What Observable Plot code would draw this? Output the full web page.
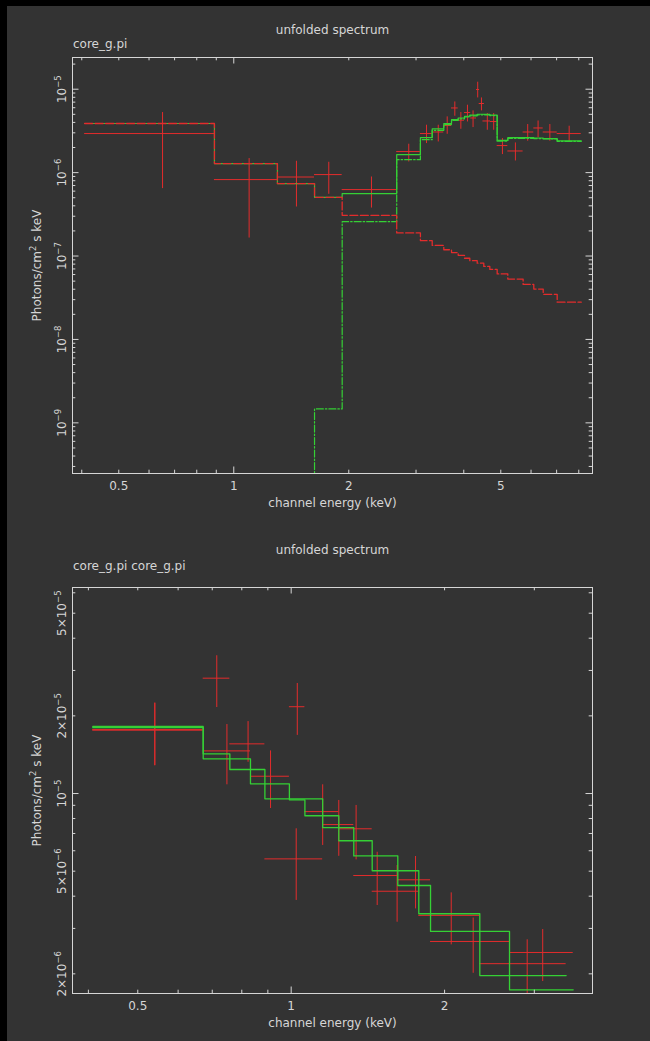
<!DOCTYPE html>
<html>
<head>
<meta charset="utf-8">
<script src="https://cdn.jsdelivr.net/npm/d3@7"></script>
<script src="https://cdn.jsdelivr.net/npm/@observablehq/plot@0.6"></script>
<style>
  html, body { margin: 0; padding: 0; background: #333333; }
  body { width: 650px; height: 1041px; position: relative; overflow: hidden; }
  .panel { position: absolute; left: 0; }
  #panel1 { top: 0; }
  #panel2 { top: 520px; }
  #edgeTop { position: absolute; left: 0; top: 0; width: 650px; height: 6px; background: #000; }
  #edgeLeft { position: absolute; left: 0; top: 0; width: 7px; height: 1041px; background: #000; }
</style>
</head>
<body>
<div id="panel1" class="panel"></div>
<div id="panel2" class="panel"></div>
<div id="edgeTop"></div>
<div id="edgeLeft"></div>
<script>
// ---------- Upper panel: core_g.pi with a two-component model ----------
// model bin edges (keV) and unfolded model values (photons/cm^2/s/keV)
const modelEdges1 = [0.407, 0.890, 1.301, 1.627, 1.922, 2.67, 3.08, 3.307, 3.546, 3.715, 3.868,
  4.018, 4.148, 4.337, 4.513, 4.68, 4.892, 5.216, 5.72, 6.1, 6.457, 7.024, 8.12];
const modelTotal1 = [3.88e-6, 1.283e-6, 7.39e-7, 5.06e-7, 5.6e-7, 1.646e-6, 2.633e-6, 3.34e-6,
  3.88e-6, 4.33e-6, 4.52e-6, 4.74e-6, 4.88e-6, 5.01e-6, 5.0e-6, 4.9e-6, 2.44e-6, 2.63e-6,
  2.63e-6, 2.6e-6, 2.56e-6, 2.40e-6];
const modelSoft1 = [3.88e-6, 1.283e-6, 7.39e-7, 5.06e-7, 3.08e-7, 1.89e-7, 1.53e-7, 1.34e-7,
  1.19e-7, 1.10e-7, 1.02e-7, 9.4e-8, 8.8e-8, 8.2e-8, 7.5e-8, 6.9e-8, 6.1e-8, 5.3e-8, 4.57e-8,
  4.02e-8, 3.47e-8, 2.8e-8];
const modelHard1 = [1e-11, 1e-11, 1e-11, 1.47e-9, 2.58e-7, 1.43e-6, 2.48e-6, 3.21e-6, 3.76e-6,
  4.22e-6, 4.42e-6, 4.65e-6, 4.8e-6, 4.93e-6, 4.92e-6, 4.83e-6, 2.38e-6, 2.58e-6, 2.58e-6,
  2.56e-6, 2.53e-6, 2.37e-6];

// data points: energy, bin edges, flux and 1-sigma range
const energy1 = [0.651, 1.097, 1.459, 1.773, 2.293, 2.871, 3.195, 3.43, 3.62, 3.79, 3.93, 4.09,
  4.23, 4.35, 4.45, 4.61, 4.79, 5.05, 5.46, 5.88, 6.26, 6.72, 7.55];
const energyLo1 = [0.407, 0.890, 1.301, 1.627, 1.922, 2.67, 3.08, 3.307, 3.546, 3.715, 3.868,
  4.018, 4.17, 4.32, 4.39, 4.49, 4.70, 4.892, 5.216, 5.72, 6.1, 6.457, 7.024];
const energyHi1 = [0.890, 1.301, 1.627, 1.922, 2.67, 3.08, 3.307, 3.546, 3.715, 3.868, 4.018,
  4.17, 4.32, 4.40, 4.53, 4.70, 4.89, 5.216, 5.72, 6.1, 6.457, 7.024, 8.12];
const flux1 = [2.94e-6, 8.25e-7, 8.86e-7, 9.47e-7, 6.26e-7, 1.788e-6, 2.94e-6, 3.07e-6, 3.67e-6,
  5.96e-6, 4.25e-6, 5.25e-6, 4.52e-6, 9.92e-6, 6.74e-6, 4.16e-6, 4.1e-6, 2.11e-6, 1.818e-6,
  3.07e-6, 3.43e-6, 3.07e-6, 2.94e-6];
const fluxLo1 = [6.43e-7, 1.643e-7, 3.87e-7, 5.5e-7, 3.76e-7, 1.341e-6, 2.23e-6, 2.33e-6, 2.88e-6,
  4.74e-6, 3.31e-6, 4.05e-6, 3.47e-6, 7.86e-6, 5.5e-6, 3.22e-6, 3.22e-6, 1.646e-6, 1.379e-6,
  2.38e-6, 2.63e-6, 2.38e-6, 2.33e-6];
const fluxHi1 = [5.25e-6, 1.474e-6, 1.368e-6, 1.33e-6, 8.86e-7, 2.19e-6, 3.70e-6, 3.70e-6, 4.66e-6,
  7.04e-6, 5.25e-6, 6.43e-6, 5.5e-6, 1.213e-5, 7.86e-6, 5.11e-6, 5.11e-6, 2.56e-6, 2.27e-6,
  3.77e-6, 4.16e-6, 3.77e-6, 3.6e-6];

// ---------- Lower panel: core_g.pi loaded twice, two binnings ----------
const modelEdges2a = [0.408, 0.672, 0.832, 0.992, 1.064, 1.240, 1.442, 1.780, 2.345, 3.464];
const modelFlux2a = [1.819e-5, 1.363e-5, 1.09e-5, 9.45e-6, 8.2e-6, 6.56e-6, 5.02e-6, 3.42e-6, 1.97e-6];
const modelEdges2b = [0.408, 0.672, 0.758, 0.888, 1.153, 1.327, 1.619, 1.877, 2.682, 3.576];
const modelFlux2b = [1.80e-5, 1.425e-5, 1.239e-5, 9.54e-6, 7.38e-6, 5.73e-6, 4.4e-6, 2.92e-6, 1.734e-6];

const energy2a = [0.540, 0.748, 0.911, 1.028, 1.153, 1.341, 1.614, 2.061, 2.905];
const flux2a = [1.77e-5, 1.463e-5, 1.167e-5, 2.17e-5, 8.51e-6, 7.3e-6, 4.18e-6, 3.37e-6, 2.19e-6];
const fluxLo2a = [1.284e-5, 1.081e-5, 8.75e-6, 1.68e-5, 6.29e-6, 5.53e-6, 3.17e-6, 2.59e-6, 1.55e-6];
const fluxHi2a = [2.24e-5, 1.851e-5, 1.463e-5, 2.67e-5, 1.081e-5, 8.99e-6, 5.26e-6, 4.12e-6, 2.71e-6];

const energy2b = [0.540, 0.7145, 0.823, 1.023, 1.240, 1.475, 1.754, 2.276, 3.116];
const flux2b = [1.76e-5, 2.8e-5, 1.558e-5, 5.58e-6, 7.58e-6, 4.81e-6, 4.63e-6, 2.67e-6, 2.42e-6];
const fluxLo2b = [1.28e-5, 2.155e-5, 1.322e-5, 3.85e-6, 5.71e-6, 3.68e-6, 3.57e-6, 2.01e-6, 1.867e-6];
const fluxHi2b = [2.24e-5, 3.42e-5, 1.9e-5, 7.3e-6, 9.4e-6, 5.92e-6, 5.7e-6, 3.29e-6, 2.97e-6];

// ---------- axis ticks and labels ----------
const xMinorTicks1 = [0.4, 0.5, 0.6, 0.7, 0.8, 0.9, 2, 3, 4, 5, 6, 7, 8];
const xMajorTicks1 = [1];
const xTickLabels1 = [0.5, 1, 2, 5];
const yMajorTicks1 = [1e-9, 1e-8, 1e-7, 1e-6, 1e-5];
const yTickText1 = ["10⁻⁹", "10⁻⁸", "10⁻⁷", "10⁻⁶", "10⁻⁵"];

const xMinorTicks2 = [0.4, 0.5, 0.6, 0.7, 0.8, 0.9, 2, 3];
const xMajorTicks2 = [1];
const xTickLabels2 = [0.5, 1, 2];
const yMajorTicks2 = [1e-5];
const yMinorTicks2 = [2e-6, 3e-6, 4e-6, 5e-6, 6e-6, 7e-6, 8e-6, 9e-6, 2e-5, 3e-5, 4e-5, 5e-5, 6e-5];
const yTickValues2 = [2e-6, 5e-6, 1e-5, 2e-5, 5e-5];
const yTickText2 = ["2×10⁻⁶", "5×10⁻⁶", "10⁻⁵", "2×10⁻⁵", "5×10⁻⁵"];

// ---------- styling ----------
const RED = "#e32c2c";
const GREEN = "#35d035";
const INK = "#d6d6d6";
const FONT = "DejaVu Sans";

// histogram outline: one horizontal run per bin, joined by vertical risers
function stepPoints(edges, values) {
  const pts = [];
  values.forEach((v, i) => { pts.push({x: edges[i], y: v}); pts.push({x: edges[i + 1], y: v}); });
  return pts;
}

// log-decade minor ticks (2..9) that fall inside a domain
function logMinor(domain) {
  const out = [];
  for (let p = Math.floor(Math.log10(domain[0])); p <= Math.ceil(Math.log10(domain[1])); p++) {
    for (let m = 2; m <= 9; m++) {
      const v = m * Math.pow(10, p);
      if (v > domain[0] && v < domain[1]) out.push(v);
    }
  }
  return out;
}

function crosses(rows, stroke) {
  return [
    Plot.ruleX(rows, {x: "e", y1: "lo", y2: "hi", stroke, strokeWidth: 1, clip: true}),
    Plot.ruleY(rows, {y: "v", x1: "elo", x2: "ehi", stroke, strokeWidth: 1, clip: true})
  ];
}

function frameAndTicks(innerW, innerH, t) {
  const major = 6.5, minor = 3.3;
  return [
    Plot.frame({stroke: INK, strokeWidth: 1}),
    // x ticks, bottom and top, pointing inward
    Plot.tickX(t.xMinor, {x: d => d, stroke: INK, insetTop: innerH - minor}),
    Plot.tickX(t.xMinor, {x: d => d, stroke: INK, insetBottom: innerH - minor}),
    Plot.tickX(t.xMajor, {x: d => d, stroke: INK, insetTop: innerH - major}),
    Plot.tickX(t.xMajor, {x: d => d, stroke: INK, insetBottom: innerH - major}),
    // y ticks, left and right, pointing inward
    Plot.tickY(t.yMinor, {y: d => d, stroke: INK, insetRight: innerW - minor}),
    Plot.tickY(t.yMinor, {y: d => d, stroke: INK, insetLeft: innerW - minor}),
    Plot.tickY(t.yMajor, {y: d => d, stroke: INK, insetRight: innerW - major}),
    Plot.tickY(t.yMajor, {y: d => d, stroke: INK, insetLeft: innerW - major}),
    // tick labels
    Plot.text(t.xLabels, {x: d => d, text: d => String(d), frameAnchor: "bottom", dy: 7.5,
      lineAnchor: "top", fill: INK, fontSize: 12, fontFamily: FONT}),
    Plot.text(t.yValues, {y: d => d, text: (d, i) => t.yText[i], frameAnchor: "left", dx: -7,
      rotate: -90, textAnchor: "middle", lineAnchor: "bottom", fill: INK, fontSize: 12, fontFamily: FONT}),
    // axis titles, plot title and file name
    Plot.text(["channel energy (keV)"], {text: d => d, frameAnchor: "bottom", dy: 33,
      lineAnchor: "bottom", fill: INK, fontSize: 12, fontFamily: FONT, letterSpacing: "0.3px"}),
    Plot.text(["Photons/cm² s keV"], {text: d => d, frameAnchor: "left", dx: -32, rotate: -90,
      textAnchor: "middle", lineAnchor: "bottom", fill: INK, fontSize: 12, fontFamily: FONT,
      letterSpacing: "0.3px"}),
    Plot.text(["unfolded spectrum"], {text: d => d, frameAnchor: "top", dy: t.titleDy,
      lineAnchor: "bottom", fill: INK, fontSize: 12, fontFamily: FONT}),
    Plot.text([t.fileLabel], {text: d => d, frameAnchor: "top-left", dy: t.fileDy, dx: 0.5,
      textAnchor: "start", lineAnchor: "bottom", fill: INK, fontSize: 12, fontFamily: FONT})
  ];
}

// render superscript characters as raised, smaller tspans
const SUPER = {"⁰": "0", "¹": "1", "²": "2", "³": "3", "⁴": "4", "⁵": "5", "⁶": "6",
  "⁷": "7", "⁸": "8", "⁹": "9", "⁻": "−"};
function raiseSuperscripts(svg) {
  svg.querySelectorAll("text").forEach(node => {
    const s = node.textContent;
    if (![...s].some(c => c in SUPER)) return;
    const runs = [];
    for (const c of s) {
      const sup = c in SUPER;
      const last = runs[runs.length - 1];
      if (last && last.sup === sup) last.text += sup ? SUPER[c] : c;
      else runs.push({sup, text: sup ? SUPER[c] : c});
    }
    node.textContent = "";
    let raised = false;
    for (const r of runs) {
      const span = document.createElementNS("http://www.w3.org/2000/svg", "tspan");
      span.textContent = r.text;
      if (r.sup) { span.setAttribute("font-size", "8.5"); span.setAttribute("dy", "-5"); raised = true; }
      else if (raised) { span.setAttribute("dy", "5"); raised = false; }
      node.appendChild(span);
    }
  });
}

// ---------- upper panel ----------
{
  const width = 650, height = 520;
  const margin = {top: 57, right: 58, bottom: 47, left: 72};
  const xDomain = [0.3783, 8.69];
  const yDomain = [2.47e-10, 2.4e-5];
  const rows = energy1.map((e, i) => ({e, elo: energyLo1[i], ehi: energyHi1[i],
    v: flux1[i], lo: fluxLo1[i], hi: fluxHi1[i]}));
  const chart = Plot.plot({
    width, height,
    marginTop: margin.top, marginRight: margin.right, marginBottom: margin.bottom, marginLeft: margin.left,
    x: {type: "log", domain: xDomain, axis: null},
    y: {type: "log", domain: yDomain, axis: null},
    style: {background: "transparent", fontFamily: FONT, color: INK},
    marks: [
      ...crosses(rows, RED),
      Plot.line(stepPoints(modelEdges1, modelTotal1), {x: "x", y: "y", stroke: GREEN, strokeWidth: 1.2, clip: true}),
      Plot.line(stepPoints(modelEdges1, modelHard1), {x: "x", y: "y", stroke: GREEN, strokeWidth: 1.2,
        strokeDasharray: "7,2,1.5,2", clip: true}),
      Plot.line(stepPoints(modelEdges1, modelSoft1), {x: "x", y: "y", stroke: RED, strokeWidth: 1.3,
        strokeDasharray: "8,2.5", clip: true}),
      ...frameAndTicks(width - margin.left - margin.right, height - margin.top - margin.bottom, {
        xMinor: xMinorTicks1, xMajor: xMajorTicks1, xLabels: xTickLabels1,
        yMinor: logMinor(yDomain), yMajor: yMajorTicks1,
        yValues: yMajorTicks1, yText: yTickText1,
        titleDy: -24, fileDy: -10, fileLabel: "core_g.pi"
      })
    ]
  });
  raiseSuperscripts(chart);
  document.getElementById("panel1").appendChild(chart);
}

// ---------- lower panel ----------
{
  const width = 650, height = 521;
  const margin = {top: 67, right: 58, bottom: 48, left: 72};
  const xDomain = [0.3723, 3.902];
  const yDomain = [1.678e-6, 6.29e-5];
  const rowsA = energy2a.map((e, i) => ({e, elo: modelEdges2a[i], ehi: modelEdges2a[i + 1],
    v: flux2a[i], lo: fluxLo2a[i], hi: fluxHi2a[i]}));
  const rowsB = energy2b.map((e, i) => ({e, elo: modelEdges2b[i], ehi: modelEdges2b[i + 1],
    v: flux2b[i], lo: fluxLo2b[i], hi: fluxHi2b[i]}));
  const chart = Plot.plot({
    width, height,
    marginTop: margin.top, marginRight: margin.right, marginBottom: margin.bottom, marginLeft: margin.left,
    x: {type: "log", domain: xDomain, axis: null},
    y: {type: "log", domain: yDomain, axis: null},
    style: {background: "transparent", fontFamily: FONT, color: INK},
    marks: [
      ...crosses(rowsA, RED),
      ...crosses(rowsB, RED),
      Plot.line(stepPoints(modelEdges2a, modelFlux2a), {x: "x", y: "y", stroke: GREEN, strokeWidth: 1.3, clip: true}),
      Plot.line(stepPoints(modelEdges2b, modelFlux2b), {x: "x", y: "y", stroke: GREEN, strokeWidth: 1.3, clip: true}),
      ...frameAndTicks(width - margin.left - margin.right, height - margin.top - margin.bottom, {
        xMinor: xMinorTicks2, xMajor: xMajorTicks2, xLabels: xTickLabels2,
        yMinor: yMinorTicks2, yMajor: yMajorTicks2,
        yValues: yTickValues2, yText: yTickText2,
        titleDy: -34, fileDy: -18, fileLabel: "core_g.pi core_g.pi"
      })
    ]
  });
  raiseSuperscripts(chart);
  document.getElementById("panel2").appendChild(chart);
}
</script>
</body>
</html>
